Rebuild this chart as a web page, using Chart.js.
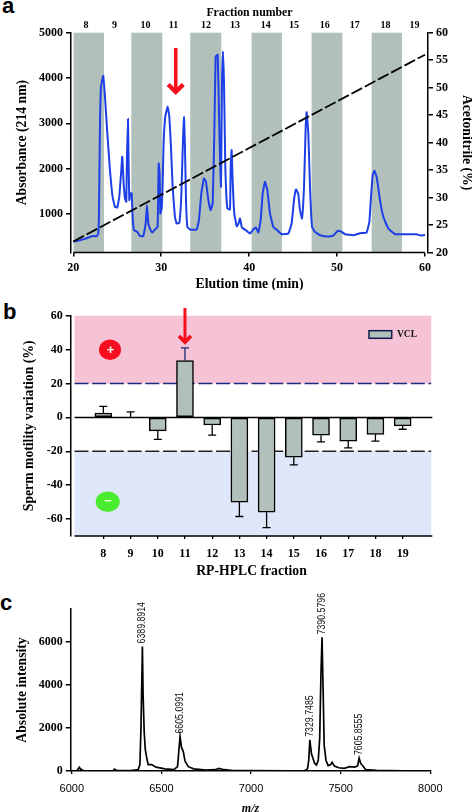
<!DOCTYPE html>
<html><head><meta charset="utf-8">
<script src="https://cdn.jsdelivr.net/npm/chart.js@4"></script>
<style>
html,body{margin:0;padding:0;background:#fff;width:472px;height:812px;overflow:hidden}
canvas{position:absolute;left:0}
.tag{position:absolute;font:bold 22px "Liberation Sans",Arial,sans-serif;line-height:20px;color:#000}
</style></head><body>
<div class="tag" style="left:2px;top:-4px">a</div>
<div class="tag" style="left:3px;top:302px">b</div>
<div class="tag" style="left:0px;top:593px">c</div>
<div style="position:absolute;left:0;top:0;width:472px;height:290px"><canvas id="ca"></canvas></div>
<div style="position:absolute;left:0;top:295px;width:472px;height:290px"><canvas id="cb"></canvas></div>
<div style="position:absolute;left:0;top:590px;width:472px;height:222px"><canvas id="cc"></canvas></div>
<script>
// ---------- Panel a data ----------
const elutionTime=[20,20.76,21.33,21.9,22.27,22.65,22.84,22.92,23.03,23.15,23.41,23.6,23.87,24.17,24.47,24.74,25,25.23,25.46,25.57,25.73,25.88,26.03,26.1,26.22,26.29,26.37,26.48,26.64,26.75,26.9,27.28,27.58,27.96,28.23,28.38,28.53,28.72,28.99,29.29,29.59,29.71,29.82,29.9,30.05,30.16,30.27,30.46,30.73,30.92,31.11,31.3,31.56,31.75,32.06,32.28,32.44,32.59,32.7,32.82,32.97,33.27,34.03,34.29,34.56,34.86,35.09,35.36,35.62,35.85,36.04,36.19,36.42,36.57,36.68,36.8,36.91,37.02,37.14,37.29,37.52,37.82,37.9,38.01,38.12,38.31,38.58,38.77,38.96,39.18,39.72,40.09,40.47,40.78,41.04,41.31,41.54,41.8,42.07,42.37,42.75,43.2,43.7,44.46,44.83,45.1,45.33,45.59,45.78,46.01,46.24,46.43,46.54,46.73,46.92,47.15,47.49,48.06,49,49.57,50.03,50.41,50.9,51.85,52.6,53.36,53.67,53.86,54.05,54.24,54.5,54.88,55.26,55.83,56.59,57.91,59.05,59.51,60];
const absorbance=[387,417,446,491,513,506,565,1007,2926,3812,4048,3590,2779,1967,1376,1155,1140,1376,1967,2262,1672,1339,1266,2188,3096,2188,1303,1450,1450,934,638,601,513,506,786,1192,786,675,587,653,712,2114,1893,1007,1118,1635,2557,3148,3369,3148,2483,1598,934,786,801,1376,2410,3133,2483,1303,712,653,653,860,1450,1782,1708,1303,1081,1229,2779,4476,4513,3221,2262,1598,3886,4587,3886,2041,1118,1096,2041,2410,1745,1007,727,771,897,697,624,565,653,697,587,860,1450,1708,1524,1007,712,638,550,565,786,1303,1539,1435,1081,897,1598,2926,3244,2779,1598,712,601,528,498,520,616,616,550,528,572,587,823,1376,1856,1952,1819,1303,934,675,550,550,550,520,535];
const gradientTime=[20,60];
const gradientPct=[22,56];
const bandStart=[20.04,26.6,33.3,40.28,47.1,53.93];
const bandEnd=[23.49,30.12,36.83,43.73,50.6,57.38];
const fractionCenters=[21.45,24.7,28.2,31.4,35.1,38.4,41.9,45.1,48.6,52,55.5,58.8];
const fractionLabels=['8','9','10','11','12','13','14','15','16','17','18','19'];
const timeTicks=[20,30,40,50,60];
const absTicks=[1000,2000,3000,4000,5000];
// ---------- Panel b data ----------
const fractions=[8,9,10,11,12,13,14,15,16,17,18,19];
const vclValues=[2.5,0,-8,33.5,-4.5,-50,-56,-23.5,-10.5,-14,-10,-5];
const vclErrorEnds=[6.5,3.3,-13,41,-10.5,-58.5,-65,-28,-14.5,-18,-14,-7];
const motilityTicks=[-60,-40,-20,0,20,40,60];
const thresholds=[20,-20];
// ---------- Panel c data ----------
const mzValues=[6000,6030,6042,6050,6065,6100,6230,6238,6250,6330,6370,6380,6386,6394,6398,6404,6410,6416,6426,6445,6470,6520,6570,6590,6597,6604,6612,6622,6632,6650,6680,6750,6800,6820,6850,6900,7000,7200,7300,7315,7322,7328,7337,7345,7355,7365,7375,7383,7390,7396,7402,7408,7418,7430,7445,7452,7465,7490,7520,7550,7580,7595,7603,7612,7625,7640,7700,7850,8000];
const intensity=[0,20,170,80,20,10,10,90,20,20,60,300,2000,5780,3500,1800,1000,700,300,300,180,100,60,200,900,1600,1100,900,450,200,100,40,60,120,60,20,15,10,20,100,500,1450,800,600,350,280,500,1500,4500,6200,3800,1200,500,250,300,400,230,150,120,200,180,250,600,350,220,60,30,10,0];
const peakMz=[6394,6604,7328,7396,7603];
const peakIntensity=[5780,1600,1450,6200,600];
const peakLabels=['6389.8914','6605.0991','7329.7485','7390.5796','7605.8555'];
const mzTicks=[6000,6500,7000,7500,8000];
const intensityTicks=[0,2000,4000,6000];

const SERIF='"Liberation Serif","Times New Roman",serif';
const SANS='"Liberation Sans",Arial,sans-serif';
const tickFont=(size=12,weight='bold',family=SERIF)=>({family,size,weight});
const setTicks=arr=>s=>{s.ticks=arr.map(v=>({value:v}))};
const fixW=w=>s=>{s.width=w};
const fixH=h=>s=>{s.height=h};
const axisColor='#000';
Chart.defaults.animation=false;
Chart.defaults.responsive=false;
Chart.defaults.color='#000';
Chart.defaults.plugins.legend.display=false;
Chart.defaults.plugins.tooltip.enabled=false;

function size(id,w,h){const c=document.getElementById(id);c.width=w;c.height=h;c.style.width=w+'px';c.style.height=h+'px';return c}

function drawArrow(ctx,x,yTop,yTip,wing,shaft){
  ctx.save();ctx.fillStyle='#f5101c';ctx.strokeStyle='#f5101c';
  ctx.lineWidth=shaft;ctx.beginPath();ctx.moveTo(x,yTop);ctx.lineTo(x,yTip-4);ctx.stroke();
  ctx.lineWidth=shaft+0.8;ctx.lineJoin='miter';ctx.beginPath();
  ctx.moveTo(x-wing,yTip-wing-3);ctx.lineTo(x,yTip-3);ctx.lineTo(x+wing,yTip-wing-3);ctx.stroke();
  ctx.restore();
}

// ---------- Panel a ----------
const plugA={id:'a',
 beforeDatasetsDraw(ch){const {ctx,chartArea:ca,scales:{x}}=ch;ctx.save();ctx.fillStyle='#b2c0bc';
   bandStart.forEach((b,i)=>{const l=x.getPixelForValue(b),r=x.getPixelForValue(bandEnd[i]);ctx.fillRect(l,ca.top,r-l,ca.bottom-ca.top)});
   ctx.restore()},
 afterDraw(ch){const {ctx,chartArea:ca,scales:{x}}=ch;ctx.save();ctx.strokeStyle=axisColor;ctx.lineWidth=1.5;
   ctx.beginPath();ctx.moveTo(x.getPixelForValue(timeTicks[0]),ca.bottom);ctx.lineTo(x.getPixelForValue(timeTicks[4]),ca.bottom);ctx.stroke();ctx.restore();
   drawArrow(ctx,x.getPixelForValue(31.65),48,95,7.5,3.6)}
};
new Chart(size('ca',472,290),{type:'line',plugins:[plugA],data:{datasets:[
 {label:'Acetonitrile (%)',yAxisID:'y2',data:gradientTime.map((t,i)=>({x:t,y:gradientPct[i]})),borderColor:'#000',borderWidth:1.8,borderDash:[12,3],pointRadius:0,tension:0},
 {label:'Absorbance (214 nm)',yAxisID:'y',data:elutionTime.map((t,i)=>({x:t,y:absorbance[i]})),borderColor:'#1c3fe6',borderWidth:2,pointRadius:0,tension:0.1}
]},options:{layout:{padding:0},scales:{
 x:{type:'linear',min:19.74,max:60.34,position:'bottom',afterBuildTicks:setTicks(timeTicks),afterFit:fixH(37.5),
    border:{display:false},grid:{drawOnChartArea:false,tickLength:4,lineWidth:1.5,color:axisColor},
    ticks:{font:tickFont(12),padding:4,maxRotation:0,autoSkip:false,callback:v=>String(v)},
    title:{display:true,text:'Elution time (min)',font:tickFont(13.7),padding:{top:0,bottom:-3}}},
 top:{type:'linear',axis:'x',min:19.74,max:60.34,position:'top',afterBuildTicks:setTicks(fractionCenters),afterFit:fixH(32.7),
    border:{display:false},grid:{display:false,drawTicks:false},
    ticks:{font:tickFont(10),padding:1.5,maxRotation:0,autoSkip:false,callback:(v,i)=>fractionLabels[i]},
    title:{display:true,text:'Fraction number',font:tickFont(11.8),padding:{top:5.5,bottom:0}}},
 y:{type:'linear',min:146,max:5000,position:'left',afterBuildTicks:setTicks(absTicks),afterFit:fixW(71),
    border:{color:axisColor,width:1.5},grid:{drawOnChartArea:false,tickLength:5,lineWidth:1.5,color:axisColor},
    ticks:{font:tickFont(12),padding:3,callback:v=>String(v)},
    title:{display:true,text:'Absorbance (214 nm)',font:tickFont(13.7),padding:{top:14,bottom:0}}},
 y2:{type:'linear',min:20,max:60,position:'right',afterFit:fixW(44),
    border:{color:axisColor,width:1.5},grid:{drawOnChartArea:false,tickLength:5,lineWidth:1.5,color:axisColor},
    ticks:{font:tickFont(12),padding:3,stepSize:5},
    title:{display:true,text:'Acetonitrile (%)',font:tickFont(13.7),padding:{top:-3,bottom:0}}}
}}});

// ---------- Panel b ----------
const plugB={id:'b',
 beforeDatasetsDraw(ch){const {ctx,scales:{x,y}}=ch;ctx.save();
   const L=x.getPixelForValue(6.94),R=x.getPixelForValue(20.05);
   ctx.fillStyle='#f5c2d6';ctx.fillRect(L,y.getPixelForValue(60),R-L,y.getPixelForValue(20)-y.getPixelForValue(60));
   ctx.fillStyle='#dfe7fb';ctx.fillRect(L,y.getPixelForValue(-20),R-L,y.getPixelForValue(-70)-y.getPixelForValue(-20));
   ctx.setLineDash([14,3.7]);ctx.lineWidth=1.6;
   thresholds.forEach(t=>{const p=y.getPixelForValue(t);
     ctx.strokeStyle=t>0?'#1c2a80':'#222';ctx.beginPath();ctx.moveTo(L,p);ctx.lineTo(R,p);ctx.stroke()});
   ctx.restore()},
 afterDatasetsDraw(ch){const {ctx,scales:{x,y}}=ch;ctx.save();
   ctx.lineWidth=1.3;
   fractions.forEach((f,i)=>{const px=x.getPixelForValue(f),a=y.getPixelForValue(vclValues[i]),b=y.getPixelForValue(vclErrorEnds[i]);
     ctx.strokeStyle=f===11?'#1a2a70':'#000';
     ctx.beginPath();ctx.moveTo(px,a);ctx.lineTo(px,b);ctx.moveTo(px-4,b);ctx.lineTo(px+4,b);ctx.stroke()});
   const L=x.getPixelForValue(6.94),R=x.getPixelForValue(20.09);
   ctx.strokeStyle='#000';ctx.lineWidth=1.5;
   const z=y.getPixelForValue(0);ctx.beginPath();ctx.moveTo(L,z);ctx.lineTo(R,z);ctx.moveTo(L,ch.chartArea.bottom);ctx.lineTo(R,ch.chartArea.bottom);ctx.stroke();
   // legend
   ctx.fillStyle='#b2c0bc';ctx.strokeStyle='#101a50';ctx.lineWidth=1.5;ctx.fillRect(369,35.7,22.7,7.6);ctx.strokeRect(369,35.7,22.7,7.6);
   ctx.fillStyle='#111';ctx.font='bold 9.5px '+SERIF;ctx.textBaseline='middle';ctx.textAlign='left';ctx.fillText('VCL',397,39.7);
   // sign markers
   ctx.fillStyle='#f80c20';ctx.beginPath();ctx.ellipse(110,54.7,11,10.2,0,0,7);ctx.fill();
   ctx.fillStyle='#4aec30';ctx.beginPath();ctx.ellipse(107.7,206.7,12,10.2,0,0,7);ctx.fill();
   ctx.fillStyle='#fff';ctx.textAlign='center';ctx.font='bold 13px '+SANS;ctx.fillText('+',110.5,55);
   ctx.fillStyle='#e8ffe0';ctx.fillText('\u2212',108,206.5);
   ctx.restore();
   drawArrow(ctx,x.getPixelForValue(11),13,50,6,3)}
};
new Chart(size('cb',472,290),{type:'bar',plugins:[plugB],data:{datasets:[
 {label:'VCL',data:fractions.map((f,i)=>({x:f,y:vclValues[i]})),backgroundColor:'#b2c0bc',borderColor:'#000',borderWidth:1.5,borderSkipped:false,barThickness:17}
]},options:{layout:{padding:{top:20.7,right:39.7}},scales:{
 x:{type:'linear',offset:false,min:6.8,max:20.09,position:'bottom',afterBuildTicks:setTicks(fractions),afterFit:fixH(49),
    border:{display:false},grid:{drawOnChartArea:false,offset:false,tickLength:3,lineWidth:1.3,color:axisColor},
    ticks:{font:tickFont(12),padding:7.5,maxRotation:0,autoSkip:false,callback:v=>String(v)},
    title:{display:true,text:'RP-HPLC fraction',font:tickFont(13.7),padding:{top:4,bottom:5}}},
 y:{type:'linear',min:-70,max:60,position:'left',afterBuildTicks:setTicks(motilityTicks),afterFit:fixW(70.7),
    border:{color:axisColor,width:1.5},grid:{drawOnChartArea:false,tickLength:5,lineWidth:1.5,color:axisColor},
    ticks:{font:tickFont(12),padding:3,callback:v=>String(v)},
    title:{display:true,text:'Sperm motility variation (%)',font:tickFont(13.7),padding:{top:21,bottom:0}}}
}}});

// ---------- Panel c ----------
const plugC={id:'c',afterDatasetsDraw(ch){const {ctx,scales:{x,y}}=ch;ctx.save();
   ctx.fillStyle='#111';ctx.font='10.7px '+SANS;ctx.textAlign='left';ctx.textBaseline='middle';
   peakLabels.forEach((l,i)=>{ctx.save();ctx.translate(x.getPixelForValue(peakMz[i]),y.getPixelForValue(peakIntensity[i])-3);ctx.rotate(-Math.PI/2);ctx.scale(0.82,1);ctx.fillText(l,0,0);ctx.restore()});
   ctx.restore()}};
new Chart(size('cc',472,222),{type:'line',plugins:[plugC],data:{datasets:[
 {label:'Absolute intensity',data:mzValues.map((m,i)=>({x:m,y:intensity[i]})),borderColor:'#000',borderWidth:1.7,pointRadius:0,tension:0}
]},options:{layout:{padding:{top:19,right:41.7}},scales:{
 x:{type:'linear',min:5994,max:8000,position:'bottom',afterBuildTicks:setTicks(mzTicks),afterFit:fixH(41),
    border:{color:axisColor,width:1.5},grid:{drawOnChartArea:false,tickLength:3,lineWidth:1.3,color:axisColor},
    ticks:{font:tickFont(11,'normal',SANS),padding:8,maxRotation:0,autoSkip:false,callback:v=>String(v)},
    title:{display:true,text:'m/z',font:{family:SERIF,size:12,weight:'bold',style:'italic'},padding:{top:4,bottom:-4}}},
 y:{type:'linear',min:0,max:7517,position:'left',afterBuildTicks:setTicks(intensityTicks),afterFit:fixW(70.7),
    border:{color:axisColor,width:1.5},grid:{drawOnChartArea:false,tickLength:5,lineWidth:1.5,color:axisColor},
    ticks:{font:tickFont(12),padding:3,callback:v=>String(v)},
    title:{display:true,text:'Absolute intensity',font:tickFont(13.7),padding:{top:14,bottom:0}}}
}}});
</script>
</body></html>
